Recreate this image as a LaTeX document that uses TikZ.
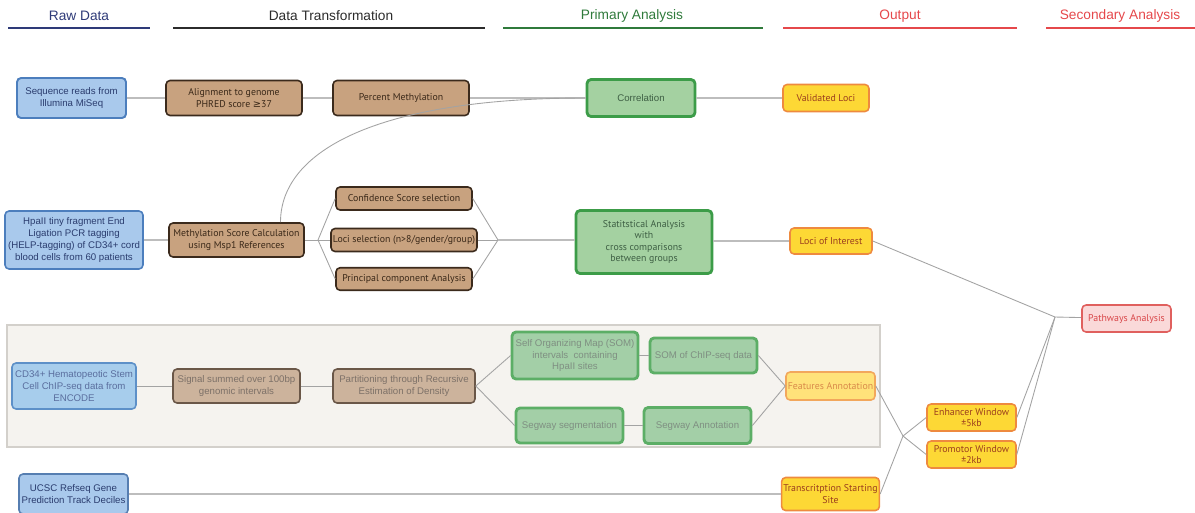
\documentclass[tikz,border=0pt]{standalone}
\usepackage{fontspec}
\setmainfont{Liberation Sans}
\newfontfamily\myr{PT Sans}
\newfontfamily\symf{DejaVu Sans}
\usetikzlibrary{positioning,calc}
\usepackage{xcolor}
\definecolor{rawink}{HTML}{2E3A78}
\definecolor{dtink}{HTML}{2B2B2B}
\definecolor{paink}{HTML}{2F7A3B}
\definecolor{outink}{HTML}{E5484B}
\definecolor{bluefill}{HTML}{A9C9EC}
\definecolor{blueedge}{HTML}{4C7EBD}
\definecolor{bluetext}{HTML}{2A3C6E}
\definecolor{brownfill}{HTML}{C8A27F}
\definecolor{brownedge}{HTML}{3B2A1C}
\definecolor{browntext}{HTML}{3A2818}
\definecolor{greenfill}{HTML}{A4D1A1}
\definecolor{greenedge}{HTML}{3C9C48}
\definecolor{greentext}{HTML}{3E5F44}
\definecolor{yellowfill}{HTML}{FDD835}
\definecolor{yellowedge}{HTML}{EE8A3F}
\definecolor{yellowtext}{HTML}{9B3E1E}
\definecolor{pinkfill}{HTML}{FAD9D9}
\definecolor{pinkedge}{HTML}{E0605E}
\definecolor{pinktext}{HTML}{D9484B}
\definecolor{panel}{HTML}{F5F3EF}
\definecolor{paneledge}{HTML}{D3D0CB}
\definecolor{wire}{HTML}{BDBDBD}
\definecolor{darkwire}{HTML}{8C8C8C}
\definecolor{fbluefill}{HTML}{A7CDEC}
\definecolor{fblueedge}{HTML}{5D90C8}
\definecolor{fbluetext}{HTML}{5A6E9E}
\definecolor{fbrownfill}{HTML}{CCB39C}
\definecolor{fbrownedge}{HTML}{6A5748}
\definecolor{fbrowntext}{HTML}{7D7168}
\definecolor{fgreenfill}{HTML}{A3CFA7}
\definecolor{fgreenedge}{HTML}{5CAE66}
\definecolor{fgreentext}{HTML}{7F8F82}
\definecolor{featfill}{HTML}{FFE27A}
\definecolor{featedge}{HTML}{F2A75C}
\definecolor{feattext}{HTML}{D98A4A}
\tikzset{
  box/.style={rounded corners=2.3pt,align=center,inner sep=1pt,line width=0.9pt,
    font=\fontsize{5.5}{6.6}\selectfont},
  bluebox/.style={box,fill=bluefill,draw=blueedge,text=bluetext},
  brownbox/.style={box,fill=brownfill,draw=brownedge,text=browntext,font=\myr\fontsize{5.6}{6.6}\selectfont},
  greenbox/.style={box,fill=greenfill,draw=greenedge,text=greentext,line width=1.6pt},
  yellowbox/.style={box,fill=yellowfill,draw=yellowedge,text=yellowtext,font=\myr\fontsize{5.6}{6.6}\selectfont},
  pinkbox/.style={box,fill=pinkfill,draw=pinkedge,text=pinktext,font=\myr\fontsize{5.6}{6.6}\selectfont},
  fbluebox/.style={box,fill=fbluefill,draw=fblueedge,text=fbluetext},
  fbrownbox/.style={box,fill=fbrownfill,draw=fbrownedge,text=fbrowntext},
  fgreenbox/.style={box,fill=fgreenfill,draw=fgreenedge,text=fgreentext,line width=1.6pt},
  featbox/.style={box,fill=featfill,draw=featedge,text=feattext,font=\myr\fontsize{5.6}{6.6}\selectfont},
  header/.style={font=\fontsize{7.8}{9}\selectfont,inner sep=0pt},
  rule/.style={line width=1pt},
  link/.style={draw=wire,line width=0.8pt},
  graylink/.style={draw=darkwire!80,line width=0.5pt},
}

\begin{document}
\begin{tikzpicture}[x=0.02cm,y=-0.02cm]
\useasboundingbox (0,0) rectangle (1195,512);

% column headers
\node[header,text=rawink] (hraw) at (79,16) {Raw Data};
\node[header,text=dtink] (hdt) at (331,16) {Data Transformation};
\node[header,text=paink] (hpa) at (632,16) {Primary Analysis};
\node[header,text=outink] (hout) at (900,16) {Output};
\node[header,text=outink] (hsec) at (1120,16) {Secondary Analysis};
\draw[rule,rawink] (8,28) -- (150,28);
\draw[rule,dtink] (173,28) -- (485,28);
\draw[rule,paink] (503,28) -- (763,28);
\draw[rule,outink] (783,28) -- (1017,28);
\draw[rule,outink] (1046,28) -- (1195,28);

% background panel for the ChIP-seq part
\node[fill=panel,draw=paneledge,line width=0.9pt,minimum width=17.46cm,minimum height=2.44cm,inner sep=0pt] (panel) at (443.5,386) {};

% sequencing row
\node[bluebox,minimum width=2.18cm,minimum height=0.8cm,line width=1.1pt] (seq) at (71.5,98) {Sequence reads from\\Illumina MiSeq};
\node[brownbox,minimum width=2.72cm,minimum height=0.7cm] (align) at (234,98) {Alignment to genome\\PHRED score {\symf ≥}37};
\node[brownbox,minimum width=2.72cm,minimum height=0.7cm] (pmeth) at (401,98) {Percent Methylation};
\node[greenbox,minimum width=2.16cm,minimum height=0.74cm] (corr) at (641,98) {Correlation};
\node[yellowbox,minimum width=1.72cm,minimum height=0.54cm] (valid) at (826,98) {Validated Loci};

% HELP-tagging row
\node[bluebox,minimum width=2.76cm,minimum height=1.16cm,inner xsep=0pt,font=\fontsize{5.5}{7}\selectfont] (help) at (74,240) {HpaII tiny fragment End\\Ligation PCR tagging\\(HELP-tagging) of CD34+ cord\\blood cells from 60 patients};
\node[brownbox,minimum width=2.7cm,minimum height=0.68cm] (msc) at (236.5,240) {Methylation Score Calculation\\using Msp1 References};
\node[brownbox,minimum width=2.72cm,minimum height=0.46cm] (conf) at (404,198.5) {Confidence Score selection};
\node[brownbox,minimum width=2.92cm,minimum height=0.46cm] (lsel) at (404,240) {Loci selection (n>8/gender/group)};
\node[brownbox,minimum width=2.72cm,minimum height=0.45cm] (pca) at (404,279) {Principal component Analysis};
\node[greenbox,minimum width=2.72cm,minimum height=1.26cm,font=\myr\fontsize{5.6}{6.6}\selectfont] (stat) at (644,242) {Statitstical Analysis\\with\\cross comparisons\\between groups};
\node[yellowbox,minimum width=1.64cm,minimum height=0.52cm] (loi) at (831,241) {Loci of Interest};

% ChIP-seq row
\node[fbluebox,minimum width=2.48cm,minimum height=0.92cm] (cd34) at (74,386) {CD34+ Hematopeotic Stem\\Cell ChIP-seq data from\\ENCODE};
\node[fbrownbox,minimum width=2.54cm,minimum height=0.68cm] (sig) at (236.5,386) {Signal summed over 100bp\\genomic intervals};
\node[fbrownbox,minimum width=2.84cm,minimum height=0.68cm] (part) at (404,386) {Partitioning through Recursive\\Estimation of Density};
\node[fgreenbox,minimum width=2.52cm,minimum height=0.94cm] (som) at (575,355.5) {Self Organizing Map (SOM)\\intervals\ \ containing\\HpaII sites};
\node[fgreenbox,minimum width=2.14cm,minimum height=0.7cm] (somc) at (703.5,355.5) {SOM of ChIP-seq data};
\node[fgreenbox,minimum width=2.14cm,minimum height=0.7cm] (segs) at (569.5,425.5) {Segway segmentation};
\node[fgreenbox,minimum width=2.14cm,minimum height=0.72cm] (sega) at (697.5,425.5) {Segway Annotation};
\node[featbox,minimum width=1.78cm,minimum height=0.56cm] (feat) at (830.5,386) {Features Annotation};

% gene track row
\node[bluebox,minimum width=2.18cm,minimum height=0.8cm,draw=blueedge!80!gray] (ucsc) at (73.5,494) {UCSC Refseq Gene\\Prediction Track Deciles};
\node[yellowbox,minimum width=1.94cm,minimum height=0.66cm] (tss) at (830.5,494) {Transcritption Starting\\Site};
\node[yellowbox,minimum width=1.78cm,minimum height=0.54cm] (enh) at (971.5,417.5) {Enhancer Window\\±5kb};
\node[yellowbox,minimum width=1.78cm,minimum height=0.54cm] (prom) at (971.5,454.5) {Promotor Window\\±2kb};
\node[pinkbox,minimum width=1.78cm,minimum height=0.54cm] (path) at (1126.5,318.5) {Pathways Analysis};

% branch points
\coordinate (fanin) at (318,240);
\coordinate (fanout) at (498,240);
\coordinate (win) at (903,436);
\coordinate (pw) at (1055,317);

% connectors
\draw[link] (seq) -- (align);
\draw[link] (align) -- (pmeth);
\draw[link] (pmeth) -- (corr);
\draw[link] (corr) -- (valid);
\draw[link] (help) -- (msc);
\draw[graylink] (msc) -- (fanin);
\foreach \b in {conf,lsel,pca}{
  \draw[graylink] (fanin) -- (\b.west);
  \draw[graylink] (\b.east) -- (fanout);
}
\draw[link] (fanout) -- (fanout -| stat.west);
\draw[link] (stat.east |- loi) -- (loi);
\draw[graylink] ($(msc.north)+(44,0)$) .. controls ($(msc.north)+(44,-72)$) and ($(corr.west)+(-207,0)$) .. (corr.west);

\draw[graylink] (cd34) -- (sig);
\draw[graylink] (sig) -- (part);
\draw[graylink] (part.east) -- (som.west);
\draw[graylink] (part.east) -- (segs.west);
\draw[graylink] (som) -- (somc);
\draw[graylink] (segs) -- (sega);
\draw[graylink] (somc.east) -- (feat.west);
\draw[graylink] (sega.east) -- (feat.west);

\draw[link] (ucsc) -- (tss);
\draw[graylink] (feat.east) -- (win);
\draw[graylink] (tss.east) -- (win);
\draw[graylink] (win) -- (enh.west);
\draw[graylink] (win) -- (prom.west);
\draw[graylink] (loi.east) -- (pw);
\draw[graylink] (enh.east) -- (pw);
\draw[graylink] (prom.east) -- (pw);
\draw[graylink] (pw) -- (path);

\end{tikzpicture}
\end{document}
